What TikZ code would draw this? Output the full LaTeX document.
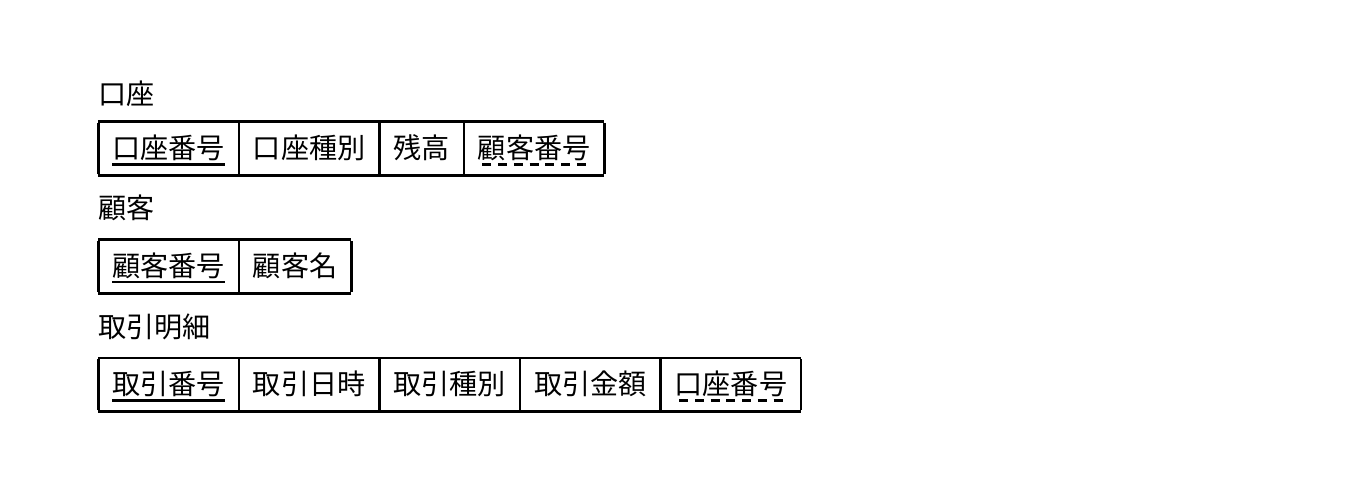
\documentclass[tikz,border=0pt]{standalone}
\usepackage{fontspec}
\setmainfont{Noto Sans CJK JP}
\usetikzlibrary{positioning}

\setlength{\tabcolsep}{8pt}
\setlength{\arrayrulewidth}{1.4pt}
\newsavebox{\keybox}
\newcommand{\cellstrut}{\rule[-8.9pt]{0pt}{29.3pt}}
\newcommand{\pkey}[1]{\sbox{\keybox}{#1}\rlap{\rule[-3.9pt]{\wd\keybox}{1.4pt}}\usebox{\keybox}}
\newcommand{\fkey}[1]{\sbox{\keybox}{#1}\rlap{\hbox to \wd\keybox{\cleaders\hbox{\kern.12em\rule[-3.9pt]{.32em}{1.4pt}\kern.12em}\hfill}}\usebox{\keybox}}

\begin{document}
\begin{tikzpicture}[every node/.style={inner sep=0pt, font=\fontsize{16pt}{19pt}\selectfont}]
		\useasboundingbox (0,0) rectangle (26.92,-9.66);
		\node[anchor=north west] (table1) at (1.96,-2.40) {\begin{tabular}{|c|c|c|c|} \hline
			\cellstrut\pkey{口座番号} & 口座種別 & 残高 & \fkey{顧客番号} \\\hline
		\end{tabular}};
		\node[above = .26cm of table1.north west, anchor=south west] (kouza) {口座};
		\node[below = .34cm of table1.south west, anchor=north west] (kokyaku) {顧客};
		\node[below = .34cm of kokyaku.south west, anchor=north west] (table2) {\begin{tabular}{|c|c|} \hline
			\cellstrut\pkey{顧客番号} & 顧客名 \\\hline
		\end{tabular}};
		\node[below = .38cm of table2.south west, anchor=north west] (torihiki) {取引明細};
		\node[below = .31cm of torihiki.south west, anchor=north west] (table3) {\begin{tabular}{|c|c|c|c|c|} \hline
			\cellstrut\pkey{取引番号} & 取引日時 & 取引種別 & 取引金額 & \fkey{口座番号} \\\hline
		\end{tabular}};
\end{tikzpicture}
\end{document}
